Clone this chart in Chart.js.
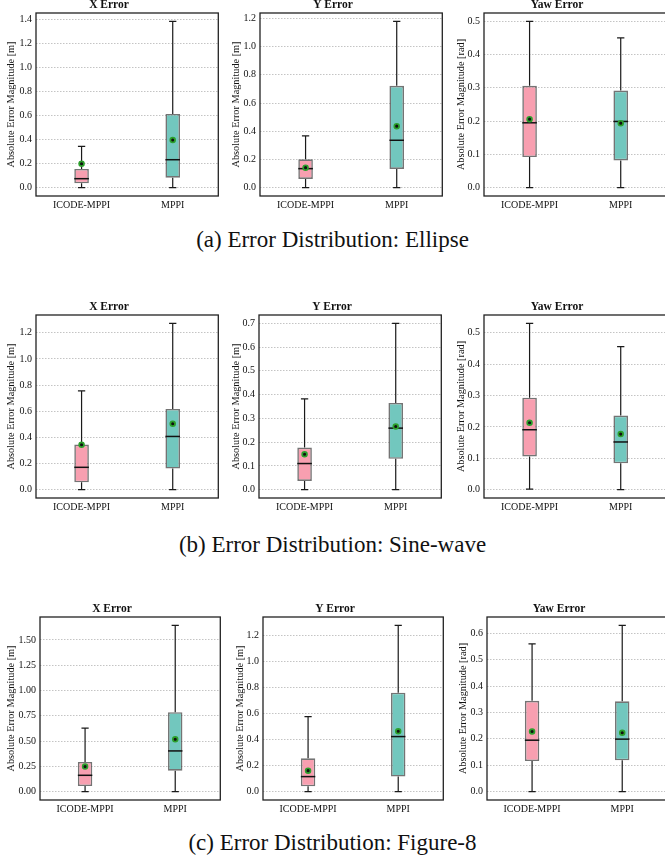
<!DOCTYPE html>
<html>
<head>
<meta charset="utf-8">
<script src="https://cdn.jsdelivr.net/npm/chart.js@4.4.1/dist/chart.umd.min.js"></script>
<style>
  html, body { margin: 0; padding: 0; background: #fff; overflow: hidden; }
  #page { position: relative; width: 665px; height: 859px; overflow: hidden; }
  canvas { position: absolute; }
  .caption {
    position: absolute; left: 0; width: 665px; text-align: center; line-height: 26px;
    font-family: 'Liberation Serif', 'DejaVu Serif', serif; font-size: 23px; color: #111;
  }
</style>
</head>
<body>
<div id="page">
  <div class="caption" style="top:227px">(a) Error Distribution: Ellipse</div>
  <div class="caption" style="top:532px">(b) Error Distribution: Sine-wave</div>
  <div class="caption" style="top:830px">(c) Error Distribution: Figure-8</div>
</div>
<script>
// box stats for each controller: [low whisker, q1, median, q3, high whisker, mean]
const categories = ['ICODE-MPPI', 'MPPI'];

const ellipseXIcode = [0, 0.036, 0.075, 0.156, 0.344, 0.200];
const ellipseXMppi  = [0, 0.083, 0.233, 0.614, 1.386, 0.397];
const ellipseYIcode = [0, 0.062, 0.135, 0.201, 0.367, 0.142];
const ellipseYMppi  = [0, 0.133, 0.336, 0.722, 1.179, 0.436];
const ellipseYawIcode = [0, 0.092, 0.195, 0.306, 0.500, 0.206];
const ellipseYawMppi  = [0, 0.082, 0.199, 0.292, 0.450, 0.194];

const sineXIcode = [0, 0.056, 0.171, 0.345, 0.755, 0.343];
const sineXMppi  = [0, 0.161, 0.407, 0.617, 1.272, 0.504];
const sineYIcode = [0, 0.037, 0.110, 0.177, 0.382, 0.149];
const sineYMppi  = [0, 0.130, 0.259, 0.365, 0.700, 0.266];
const sineYawIcode = [0.002, 0.106, 0.191, 0.293, 0.530, 0.213];
const sineYawMppi  = [0, 0.084, 0.152, 0.236, 0.456, 0.177];

const fig8XIcode = [0, 0.056, 0.162, 0.294, 0.628, 0.248];
const fig8XMppi  = [0, 0.208, 0.403, 0.786, 1.645, 0.519];
const fig8YIcode = [0, 0.041, 0.116, 0.257, 0.578, 0.162];
const fig8YMppi  = [0, 0.116, 0.424, 0.761, 1.280, 0.465];
const fig8YawIcode = [0, 0.116, 0.195, 0.344, 0.560, 0.228];
const fig8YawMppi  = [0, 0.119, 0.199, 0.342, 0.630, 0.223];

const ticks14 = [0, 0.2, 0.4, 0.6, 0.8, 1.0, 1.2, 1.4];
const ticks12 = [0, 0.2, 0.4, 0.6, 0.8, 1.0, 1.2];
const ticks05 = [0, 0.1, 0.2, 0.3, 0.4, 0.5];
const ticks07 = [0, 0.1, 0.2, 0.3, 0.4, 0.5, 0.6, 0.7];
const ticks06 = [0, 0.1, 0.2, 0.3, 0.4, 0.5, 0.6];
const ticks150 = [0, 0.25, 0.5, 0.75, 1.0, 1.25, 1.5];

const panels = [
  { title: 'X Error', unit: 'm', icode: ellipseXIcode, mppi: ellipseXMppi, ticks: ticks14, dec: 1, left: 36, top: 13, w: 186, gap: 24 },
  { title: 'Y Error', unit: 'm', icode: ellipseYIcode, mppi: ellipseYMppi, ticks: ticks12, dec: 1, left: 260, top: 13, w: 186, gap: 23 },
  { title: 'Yaw Error', unit: 'rad', icode: ellipseYawIcode, mppi: ellipseYawMppi, ticks: ticks05, dec: 1, left: 484, top: 13, w: 186, gap: 22 },
  { title: 'X Error', unit: 'm', icode: sineXIcode, mppi: sineXMppi, ticks: ticks12, dec: 1, left: 36, top: 315, w: 186, gap: 24 },
  { title: 'Y Error', unit: 'm', icode: sineYIcode, mppi: sineYMppi, ticks: ticks07, dec: 1, left: 259, top: 315, w: 186, gap: 22 },
  { title: 'Yaw Error', unit: 'rad', icode: sineYawIcode, mppi: sineYawMppi, ticks: ticks05, dec: 1, left: 484, top: 315, w: 186, gap: 22 },
  { title: 'X Error', unit: 'm', icode: fig8XIcode, mppi: fig8XMppi, ticks: ticks150, dec: 2, left: 40, top: 617, w: 184, gap: 28 },
  { title: 'Y Error', unit: 'm', icode: fig8YIcode, mppi: fig8YMppi, ticks: ticks12, dec: 1, left: 263, top: 617, w: 184, gap: 22 },
  { title: 'Yaw Error', unit: 'rad', icode: fig8YawIcode, mppi: fig8YawMppi, ticks: ticks06, dec: 1, left: 487, top: 617, w: 184, gap: 23 }
];

const serif = "'Liberation Serif', 'DejaVu Serif', serif";
const FRAME_H = 183, AXIS_W = 40, TITLE_H = 14, XAXIS_H = 18, PAD_R = 2;

// whiskers + caps under the box, median on top of it, frame last
const boxPlugin = {
  id: 'boxWhisker',
  beforeDatasetsDraw(chart) {
    const { ctx, scales: { x, y } } = chart;
    const stats = chart.options.plugins.boxWhisker.stats;
    const meta = chart.getDatasetMeta(0);
    ctx.save();
    ctx.strokeStyle = '#1a1a1a';
    ctx.lineWidth = 1.2;
    stats.forEach((s, i) => {
      const cx = x.getPixelForValue(i);
      const half = meta.data[i].width / 4;
      ctx.beginPath();
      ctx.moveTo(cx, y.getPixelForValue(s[0]));
      ctx.lineTo(cx, y.getPixelForValue(s[1]));
      ctx.moveTo(cx, y.getPixelForValue(s[3]));
      ctx.lineTo(cx, y.getPixelForValue(s[4]));
      [s[0], s[4]].forEach(v => {
        const py = y.getPixelForValue(v);
        ctx.moveTo(cx - half, py);
        ctx.lineTo(cx + half, py);
      });
      ctx.stroke();
    });
    ctx.restore();
  },
  afterDatasetDraw(chart, args) {
    if (args.index !== 0) return;
    const { ctx, scales: { x, y } } = chart;
    const stats = chart.options.plugins.boxWhisker.stats;
    const meta = chart.getDatasetMeta(0);
    ctx.save();
    ctx.strokeStyle = '#111';
    ctx.lineWidth = 1.5;
    stats.forEach((s, i) => {
      const cx = x.getPixelForValue(i);
      const half = meta.data[i].width / 2;
      const py = y.getPixelForValue(s[2]);
      ctx.beginPath();
      ctx.moveTo(cx - half, py);
      ctx.lineTo(cx + half, py);
      ctx.stroke();
    });
    ctx.restore();
  },
  afterDraw(chart) {
    const { ctx, chartArea: a } = chart;
    ctx.save();
    ctx.strokeStyle = '#222';
    ctx.lineWidth = 1.3;
    ctx.strokeRect(a.left, a.top, a.right - a.left, a.bottom - a.top);
    ctx.restore();
  }
};

const page = document.getElementById('page');

panels.forEach(p => {
  const cv = document.createElement('canvas');
  const cw = AXIS_W + p.w + PAD_R;
  const ch = TITLE_H + FRAME_H + XAXIS_H;
  cv.width = cw; cv.height = ch;
  cv.style.width = cw + 'px'; cv.style.height = ch + 'px';
  cv.style.left = (p.left - AXIS_W) + 'px';
  cv.style.top = (p.top - TITLE_H) + 'px';
  page.appendChild(cv);

  const stats = [p.icode, p.mppi];
  const top = Math.max(p.icode[4], p.mppi[4]);

  new Chart(cv.getContext('2d'), {
    type: 'bar',
    data: {
      labels: categories,
      datasets: [{
        data: stats.map(s => [s[1], s[3]]),
        backgroundColor: ['#f89fb0', '#72c7be'],
        borderColor: 'rgba(70,70,70,0.75)',
        borderWidth: 1.6,
        borderSkipped: false,
        barPercentage: 0.16,
        categoryPercentage: 1,
        order: 2
      }, {
        type: 'line',
        data: stats.map(s => s[5]),
        showLine: false,
        pointRadius: 2.4,
        pointBackgroundColor: '#111',
        pointBorderColor: '#2ca02c',
        pointBorderWidth: 1.7,
        order: 1
      }]
    },
    options: {
      responsive: false,
      animation: false,
      devicePixelRatio: 1,
      layout: { padding: { left: 0, right: PAD_R, top: 0, bottom: 0 } },
      plugins: {
        legend: { display: false },
        tooltip: { enabled: false },
        title: {
          display: true, text: p.title, color: '#111',
          font: { family: serif, size: 11.5, weight: 'bold', lineHeight: 1.1 },
          padding: { top: 0, bottom: 1.35 }
        },
        boxWhisker: { stats }
      },
      scales: {
        x: {
          grid: { display: false, drawTicks: false },
          border: { display: false },
          ticks: { color: '#111', padding: 3, font: { family: serif, size: 10 } },
          afterFit(s) { s.height = XAXIS_H; }
        },
        y: {
          min: -0.05 * top,
          max: 1.05 * top,
          afterBuildTicks(s) { s.ticks = p.ticks.map(v => ({ value: v })); },
          grid: { color: '#b5b5b5', lineWidth: 0.8, drawTicks: false },
          border: { display: false, dash: [1.5, 1.5] },
          ticks: {
            color: '#111', padding: 4, font: { family: serif, size: 10 },
            callback: v => Number(v).toFixed(p.dec)
          },
          title: {
            display: true, text: 'Absolute Error Magnitude [' + p.unit + ']', color: '#111',
            font: { family: serif, size: 10.3, lineHeight: 1.2 },
            padding: { top: AXIS_W - p.gap - 7, bottom: 0 }
          },
          afterFit(s) { s.width = AXIS_W; }
        }
      }
    },
    plugins: [boxPlugin]
  });
});
</script>
</body>
</html>
